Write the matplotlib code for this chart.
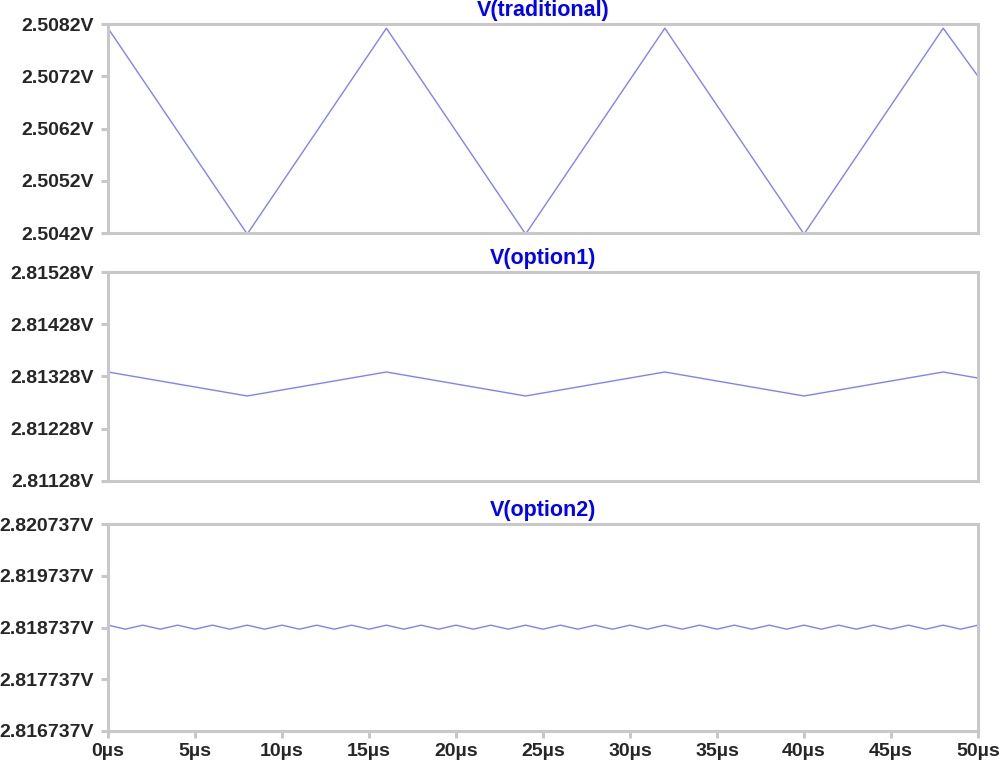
import matplotlib
matplotlib.use("Agg")
import matplotlib.pyplot as plt
from matplotlib.ticker import FuncFormatter, FixedLocator

# --- data (time in µs, voltage in V) ---
t_trad = [0, 8, 16, 24, 32, 40, 48, 50]
v_trad = [2.50812, 2.50418, 2.50812, 2.50418, 2.50812, 2.50418, 2.50812, 2.50720]

t_opt1 = [0, 8, 16, 24, 32, 40, 48, 50]
v_opt1 = [2.813366, 2.812907, 2.813366, 2.812907, 2.813366, 2.812907, 2.813366, 2.813250]

t_opt2 = [0, 1, 2, 3, 4, 5, 6, 7, 8, 9, 10, 11, 12, 13, 14, 15, 16, 17, 18, 19, 20,
          21, 22, 23, 24, 25, 26, 27, 28, 29, 30, 31, 32, 33, 34, 35, 36, 37, 38, 39, 40,
          41, 42, 43, 44, 45, 46, 47, 48, 49, 50]
v_opt2 = [2.818782, 2.818705, 2.818782, 2.818705, 2.818782, 2.818705, 2.818782, 2.818705,
          2.818782, 2.818705, 2.818782, 2.818705, 2.818782, 2.818705, 2.818782, 2.818705,
          2.818782, 2.818705, 2.818782, 2.818705, 2.818782, 2.818705, 2.818782, 2.818705,
          2.818782, 2.818705, 2.818782, 2.818705, 2.818782, 2.818705, 2.818782, 2.818705,
          2.818782, 2.818705, 2.818782, 2.818705, 2.818782, 2.818705, 2.818782, 2.818705,
          2.818782, 2.818705, 2.818782, 2.818705, 2.818782, 2.818705, 2.818782, 2.818705,
          2.818782, 2.818705, 2.818782]

titles = ["V(traditional)", "V(option1)", "V(option2)"]
yticks_trad = [2.5042, 2.5052, 2.5062, 2.5072, 2.5082]
yticks_opt1 = [2.81128, 2.81228, 2.81328, 2.81428, 2.81528]
yticks_opt2 = [2.816737, 2.817737, 2.818737, 2.819737, 2.820737]
xticks = [0, 5, 10, 15, 20, 25, 30, 35, 40, 45, 50]

LINE = "#8080ff"
FRAME = "#c8c8c8"
TXT = "#262626"

plt.rcParams["font.family"] = ["Liberation Sans", "DejaVu Sans"]

fig = plt.figure(figsize=(10, 7.66), dpi=100)
fig.patch.set_facecolor("white")

# axes rectangles in figure fractions (left, bottom, width, height)
rects = [
    (0.108, 0.6958, 0.870, 0.2728),
    (0.108, 0.3721, 0.870, 0.2728),
    (0.108, 0.0457, 0.870, 0.2702),
]
series = [(t_trad, v_trad, yticks_trad, 4),
          (t_opt1, v_opt1, yticks_opt1, 5),
          (t_opt2, v_opt2, yticks_opt2, 6)]

for i, (rect, (t, v, yt, nd)) in enumerate(zip(rects, series)):
    ax = fig.add_axes(rect)
    ax.plot(t, v, color=LINE, lw=1.0)
    ax.set_xlim(0, 50)
    ax.set_ylim(yt[0], yt[-1])
    ax.yaxis.set_major_locator(FixedLocator(yt))
    ax.yaxis.set_major_formatter(FuncFormatter(lambda y, _p, nd=nd: f"{y:.{nd}f}V"))
    for s in ax.spines.values():
        s.set_color(FRAME)
        s.set_linewidth(2.2)
    ax.tick_params(axis="y", direction="out", length=5, width=2.2, color=FRAME,
                   labelsize=14, labelcolor=TXT, pad=5)
    for lab in ax.get_yticklabels():
        lab.set_fontweight("bold")
    if i == 2:
        ax.xaxis.set_major_locator(FixedLocator(xticks))
        ax.xaxis.set_major_formatter(FuncFormatter(lambda x, _p: f"{x:g}µs"))
        ax.tick_params(axis="x", direction="out", length=5, width=2.2, color=FRAME,
                       labelsize=14, labelcolor=TXT, pad=3.5)
        for lab in ax.get_xticklabels():
            lab.set_fontweight("bold")
    else:
        ax.tick_params(axis="x", length=0, labelbottom=False)
    ax.set_title(titles[i], color="#0000ff", fontsize=15.5, fontweight="bold", pad=6)

fig.savefig("out.png", dpi=100, facecolor="white")
